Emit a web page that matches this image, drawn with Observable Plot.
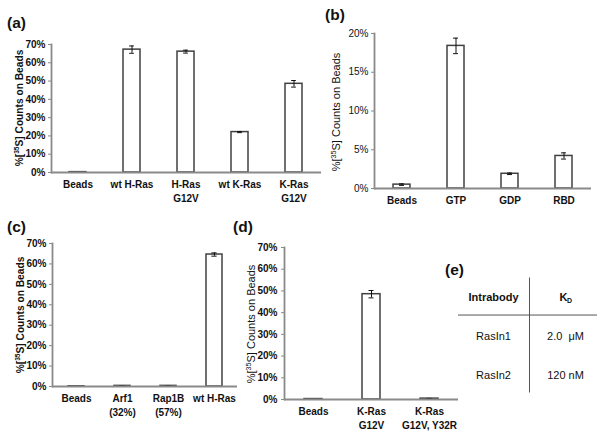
<!DOCTYPE html>
<html>
<head>
<meta charset="utf-8">
<script src="https://cdn.jsdelivr.net/npm/d3@7"></script>
<script src="https://cdn.jsdelivr.net/npm/@observablehq/plot@0.6"></script>
<style>
  html, body { margin: 0; padding: 0; background: white; }
  #fig { position: relative; width: 604px; height: 434px; overflow: hidden; font-family: "Liberation Sans", Arial, sans-serif; }
  #fig svg.panel { position: absolute; background: transparent; overflow: visible; }
</style>
</head>
<body>
<div id="fig"></div>
<script>
// ---- Data ----
// (a) binding to Ras variants
const catsA = ["Beads", "wt H-Ras", "H-Ras\nG12V", "wt K-Ras", "K-Ras\nG12V"];
const valsA = [0.2, 67.2, 66.1, 22.1, 48.5];
const errsA = [0.05, 2.0, 0.8, 0.3, 1.8];
const ticksA = [0, 10, 20, 30, 40, 50, 60, 70];

// (b) nucleotide state
const catsB = ["Beads", "GTP", "GDP", "RBD"];
const valsB = [0.5, 18.4, 1.9, 4.2];
const errsB = [0.1, 1.0, 0.1, 0.4];
const ticksB = [0, 5, 10, 15, 20];

// (c) specificity
const catsC = ["Beads", "Arf1\n(32%)", "Rap1B\n(57%)", "wt H-Ras"];
const valsC = [0.1, 0.3, 0.3, 64.6];
const errsC = [0.05, 0.1, 0.1, 0.8];
const ticksC = [0, 10, 20, 30, 40, 50, 60, 70];

// (d) effector-site mutant
const catsD = ["Beads", "K-Ras\nG12V", "K-Ras\nG12V, Y32R"];
const valsD = [0.2, 48.5, 0.4];
const errsD = [0.05, 1.7, 0.1];
const ticksD = [0, 10, 20, 30, 40, 50, 60, 70];

// (e) affinities table
const tableHeader = ["Intrabody", "K"];
const tableNames = ["RasIn1", "RasIn2"];
const tableKd = ["2.0  \u03bcM", "120 nM"];

const yTitle = ["%[", "35", "S] Counts on Beads"];
const panelLabels = ["(a)", "(b)", "(c)", "(d)", "(e)"];

// ---- Drawing ----
const fig = document.getElementById("fig");
const TEXT = "#111";
const BAR = "#404040";
const AXIS = "#8a8a8a";

function barPanel(cfg) {
  const data = cfg.cats.map((c, i) => ({cat: c, val: cfg.vals[i], err: cfg.errs[i]}));
  const bw = (cfg.width - cfg.marginLeft - cfg.marginRight) / cfg.cats.length * (1 - cfg.pad);
  const capInset = Math.max(0, (bw - 5) / 2);
  const withErr = data.filter(d => d.err > 0.08);
  const p = Plot.plot({
    width: cfg.width,
    height: cfg.height,
    marginLeft: cfg.marginLeft,
    marginRight: cfg.marginRight,
    marginTop: cfg.marginTop,
    marginBottom: cfg.marginBottom,
    style: {fontFamily: '"Liberation Sans", Arial, sans-serif', fontSize: "10px", color: TEXT, background: "transparent", overflow: "visible"},
    x: {type: "band", domain: cfg.cats, paddingInner: cfg.pad, paddingOuter: cfg.pad / 2, label: null},
    y: {domain: [0, cfg.ymax], label: null},
    marks: [
      Plot.barY(data, {x: "cat", y: "val", fill: "white", stroke: BAR, strokeWidth: 1.5}),
      Plot.ruleX(withErr, {x: "cat", y1: d => d.val - d.err, y2: d => d.val + d.err, stroke: "#111", strokeWidth: 1}),
      Plot.tickY(withErr, {x: "cat", y: d => d.val + d.err, stroke: "#111", strokeWidth: 1, insetLeft: capInset, insetRight: capInset}),
      Plot.tickY(withErr, {x: "cat", y: d => d.val - d.err, stroke: "#111", strokeWidth: 1, insetLeft: capInset, insetRight: capInset}),
      Plot.ruleY([0], {stroke: AXIS, strokeWidth: 1.8}),
      Plot.frame({anchor: "left", stroke: AXIS, strokeWidth: 1.8}),
      Plot.axisY(cfg.ticks, {tickFormat: d => d + "%", tickSize: 3, tickPadding: cfg.tickPad ?? 3, stroke: AXIS, fontWeight: cfg.yBold ? "bold" : "normal", fontSize: 10, label: null}),
      Plot.axisX({tickSize: 0, tickPadding: 6, fontWeight: "bold", fontSize: 10, lineHeight: 1.4, label: null})
    ]
  });
  p.classList.add("panel");
  p.style.left = cfg.left + "px";
  p.style.top = cfg.top + "px";
  // rotated y-axis title with superscript
  const svg = d3.select(p);
  const t = svg.append("text")
    .attr("transform", `translate(${cfg.titleX},${cfg.titleY}) rotate(-90)`)
    .attr("text-anchor", "middle")
    .attr("fill", TEXT)
    .attr("font-size", cfg.titleFont)
    .attr("font-weight", cfg.titleBold ? "bold" : "normal");
  t.append("tspan").text(yTitle[0]);
  t.append("tspan").attr("dy", -4).attr("font-size", cfg.titleFont * 0.65).text(yTitle[1]);
  t.append("tspan").attr("dy", 4).text(yTitle[2]);
  fig.appendChild(p);
}

barPanel({cats: catsA, vals: valsA, errs: errsA, ticks: ticksA, ymax: 70,
  left: 0, top: 0, width: 330, height: 210, marginLeft: 51, marginRight: 9, marginTop: 44, marginBottom: 38,
  pad: 0.68, yBold: true, titleX: 23, titleY: 108, titleFont: 10.2, titleBold: true});

barPanel({cats: catsB, vals: valsB, errs: errsB, ticks: ticksB, ymax: 20,
  left: 300, top: 0, width: 304, height: 215, marginLeft: 74, marginRight: 13, marginTop: 33, marginBottom: 27,
  pad: 0.685, yBold: false, titleX: 40, titleY: 112, titleFont: 11, titleBold: false});

barPanel({cats: catsC, vals: valsC, errs: errsC, ticks: ticksC, ymax: 70,
  left: 0, top: 215, width: 245, height: 219, marginLeft: 52, marginRight: 8, marginTop: 28, marginBottom: 48,
  pad: 0.66, yBold: true, titleX: 24, titleY: 100, titleFont: 10.2, titleBold: true});

barPanel({cats: catsD, vals: valsD, errs: errsD, ticks: ticksD, ymax: 70,
  left: 230, top: 215, width: 235, height: 219, marginLeft: 54, marginRight: 7, marginTop: 32, marginBottom: 35,
  pad: 0.69, yBold: true, tickPad: 4, titleX: 25, titleY: 109, titleFont: 11, titleBold: false});

// (e) table drawn with Plot text and rules
(function () {
  const rows = [
    {col: 0, row: 0, text: tableHeader[0], bold: true},
    {col: 1, row: 0, text: tableHeader[1], bold: true},
    ...tableNames.map((n, i) => ({col: 0, row: i + 1, text: n, bold: false})),
    ...tableKd.map((n, i) => ({col: 1, row: i + 1, text: n, bold: false}))
  ];
  const p = Plot.plot({
    width: 164, height: 140, margin: 0,
    style: {fontFamily: '"Liberation Sans", Arial, sans-serif', color: TEXT, background: "transparent", overflow: "visible"},
    x: {domain: [-0.486, 1.444], range: [18, 157], axis: null},
    y: {domain: [-0.5, 2.45], range: [17.5, 132.5], axis: null},
    marks: [
      Plot.ruleX([0.5], {y1: -0.5, y2: 2.45, stroke: "#555", strokeWidth: 1}),
      Plot.ruleY([0.45], {x1: -0.486, x2: 1.444, stroke: "#555", strokeWidth: 1}),
      Plot.text(rows.filter(d => d.bold && d.col === 0), {x: "col", y: "row", text: "text", fontWeight: "bold", fontSize: 11}),
      Plot.text(rows.filter(d => d.bold && d.col === 1), {x: "col", y: "row", text: "text", fontWeight: "bold", fontSize: 11, dx: -2}),
      Plot.text(["D"], {x: 1, y: 0, text: d => d, fontWeight: "bold", fontSize: 7, dx: 4, dy: 3}),
      Plot.text(rows.filter(d => !d.bold), {x: "col", y: "row", text: "text", fontSize: 11})
    ]
  });
  p.classList.add("panel");
  p.style.left = "440px";
  p.style.top = "260px";
  fig.appendChild(p);
})();

// panel letters
const labelPos = [[7, 28], [325, 20], [7, 232], [233, 232], [445, 275]];
const overlay = d3.select(fig).append("svg")
  .attr("class", "panel")
  .attr("width", 604).attr("height", 434)
  .style("left", "0px").style("top", "0px");
overlay.selectAll("text").data(panelLabels).join("text")
  .attr("x", (d, i) => labelPos[i][0])
  .attr("y", (d, i) => labelPos[i][1])
  .attr("font-family", '"Liberation Sans", Arial, sans-serif')
  .attr("font-size", 15.5)
  .attr("font-weight", "bold")
  .attr("fill", TEXT)
  .text(d => d);
</script>
</body>
</html>
